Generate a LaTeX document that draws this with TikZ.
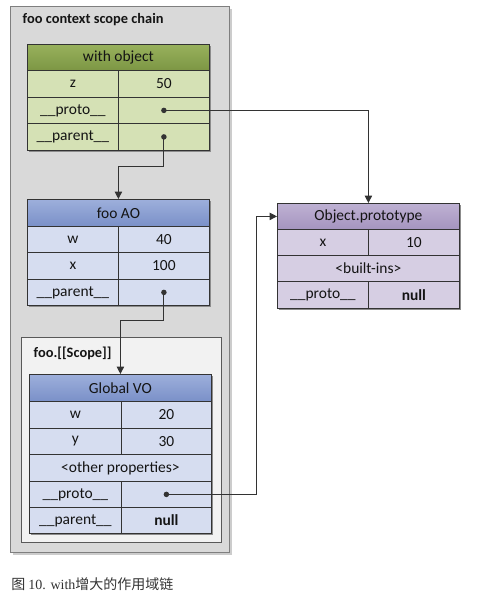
\documentclass[tikz,border=0pt]{standalone}
\usepackage{fontspec}
\setmainfont{Carlito}
\newfontfamily\cjk{Noto Sans CJK SC}
\newfontfamily\capserif{Liberation Serif}
\usetikzlibrary{arrows.meta}
\definecolor{linec}{HTML}{333333}
\definecolor{woHa}{HTML}{98B15C}
\definecolor{woHb}{HTML}{7C9644}
\definecolor{woR}{HTML}{D5E1B5}
\definecolor{faHa}{HTML}{9DAFDB}
\definecolor{faHb}{HTML}{7A90C8}
\definecolor{faR}{HTML}{D6DDF0}
\definecolor{opHa}{HTML}{BEB1D3}
\definecolor{opHb}{HTML}{A594BF}
\definecolor{opR}{HTML}{D6CEE3}
\definecolor{outerF}{HTML}{D9D9D9}
\definecolor{outerD}{HTML}{7F7F7F}
\definecolor{scopeF}{HTML}{F2F2F2}
\definecolor{scopeD}{HTML}{595959}
\definecolor{shadowc}{HTML}{8C8C8C}
\begin{document}
\begin{tikzpicture}[x=0.75pt,y=-0.75pt,
  sz/.style 2 args={minimum width=#1*0.75pt, minimum height=#2*0.75pt},
  cell/.style={draw=linec, line width=0.6pt, inner sep=0pt, anchor=north west,
    font=\fontsize{11.6}{13}\selectfont, text=black!92},
  hdr/.style 2 args={cell, top color=#1, bottom color=#2},
  dot/.style={circle, fill=linec, inner sep=0pt, minimum size=5.5*0.75pt},
  conn/.style={draw=linec, line width=0.8pt, -{Triangle[length=5.5pt,width=5.5pt]}},
  boxlabel/.style={anchor=base west, font=\bfseries\fontsize{10.8}{12}\selectfont, text=black!92},
  shadow/.style={fill=shadowc}]
\useasboundingbox (0,0) rectangle (481,599);

% outer container
\fill[black!20] (13,9) rectangle (232,555);
\node[draw=outerD, fill=outerF, line width=0.6pt, inner sep=0pt, anchor=north west, sz={219}{546}] (outer) at (10,6) {};
\node[boxlabel] (title) at (18,24) {foo context scope chain};

% with object
\fill[shadow] (29,46) rectangle (211,152);
\node[hdr={woHa}{woHb}, sz={182}{26}] (woh) at (27,44) {with object};
\node[cell, fill=woR, sz={91}{27}] (wza) at (27,70) {z};
\node[cell, fill=woR, sz={91}{27}] (wzb) at (118,70) {50};
\node[cell, fill=woR, sz={91}{26}] (wpa) at (27,97) {\_\_proto\_\_};
\node[cell, fill=woR, sz={91}{26}] (wpb) at (118,97) {};
\node[cell, fill=woR, sz={91}{27}] (wra) at (27,123) {\_\_parent\_\_};
\node[cell, fill=woR, sz={91}{27}] (wrb) at (118,123) {};
\node[dot] (wop) at (wpb.center) {};
\node[dot] (wor) at (wrb.center) {};

% foo AO
\fill[shadow] (29,201) rectangle (211,307);
\node[hdr={faHa}{faHb}, sz={182}{27}] (fah) at (27,199) {foo AO};
\node[cell, fill=faR, sz={91}{26}] (fwa) at (27,226) {w};
\node[cell, fill=faR, sz={91}{26}] (fwb) at (118,226) {40};
\node[cell, fill=faR, sz={91}{27}] (fxa) at (27,252) {x};
\node[cell, fill=faR, sz={91}{27}] (fxb) at (118,252) {100};
\node[cell, fill=faR, sz={91}{26}] (fra) at (27,279) {\_\_parent\_\_};
\node[cell, fill=faR, sz={91}{26}] (frb) at (118,279) {};
\node[dot] (far) at (frb.center) {};

% foo.[[Scope]]
\node[draw=scopeD, fill=scopeF, line width=0.6pt, inner sep=0pt, anchor=north west, sz={200}{205}] (scope) at (21,337) {};
\node[boxlabel] (scopelabel) at (29,357) {foo.[[Scope]]};

% Global VO
\fill[shadow] (31,376) rectangle (213,535);
\node[hdr={faHa}{faHb}, sz={182}{27}] (gvh) at (29,374) {Global VO};
\node[cell, fill=faR, sz={92}{27}] (gwa) at (29,401) {w};
\node[cell, fill=faR, sz={90}{27}] (gwb) at (121,401) {20};
\node[cell, fill=faR, sz={92}{26}] (gya) at (29,428) {y};
\node[cell, fill=faR, sz={90}{26}] (gyb) at (121,428) {30};
\node[cell, fill=faR, sz={182}{27}] (gop) at (29,454) {<other properties>};
\node[cell, fill=faR, sz={92}{26}] (gpa) at (29,481) {\_\_proto\_\_};
\node[cell, fill=faR, sz={90}{26}] (gpb) at (121,481) {};
\node[cell, fill=faR, sz={92}{26}] (gra) at (29,507) {\_\_parent\_\_};
\node[cell, fill=faR, sz={90}{26}] (grb) at (121,507) {\bfseries null};
\node[dot] (gvp) at (gpb.center) {};

% Object.prototype
\fill[shadow] (279,205) rectangle (461,310);
\node[hdr={opHa}{opHb}, sz={182}{26}] (oph) at (277,203) {Object.prototype};
\node[cell, fill=opR, sz={91}{26}] (oxa) at (277,229) {x};
\node[cell, fill=opR, sz={91}{26}] (oxb) at (368,229) {10};
\node[cell, fill=opR, sz={182}{26}] (obi) at (277,255) {<built-ins>};
\node[cell, fill=opR, sz={91}{27}] (opa) at (277,281) {\_\_proto\_\_};
\node[cell, fill=opR, sz={91}{27}] (opb) at (368,281) {\bfseries null};

% connectors
\draw[conn] (wop.center) -| (oph.north);
\draw[conn] (wor.center) -- ++(0,30) -| (fah.north);
\draw[conn] (far.center) -- ++(0,28) -| (gvh.north);
\draw[conn] (gvp.center) -- ++(90,0) |- (oph.west);

% caption
\node[anchor=base west, inner sep=0pt, text=black!80, font=\fontsize{10.5}{12}\selectfont] (caption) at (11,589)
  {{\cjk 图} {\capserif 10. with}{\cjk 增大的作用域链}};
\end{tikzpicture}
\end{document}
